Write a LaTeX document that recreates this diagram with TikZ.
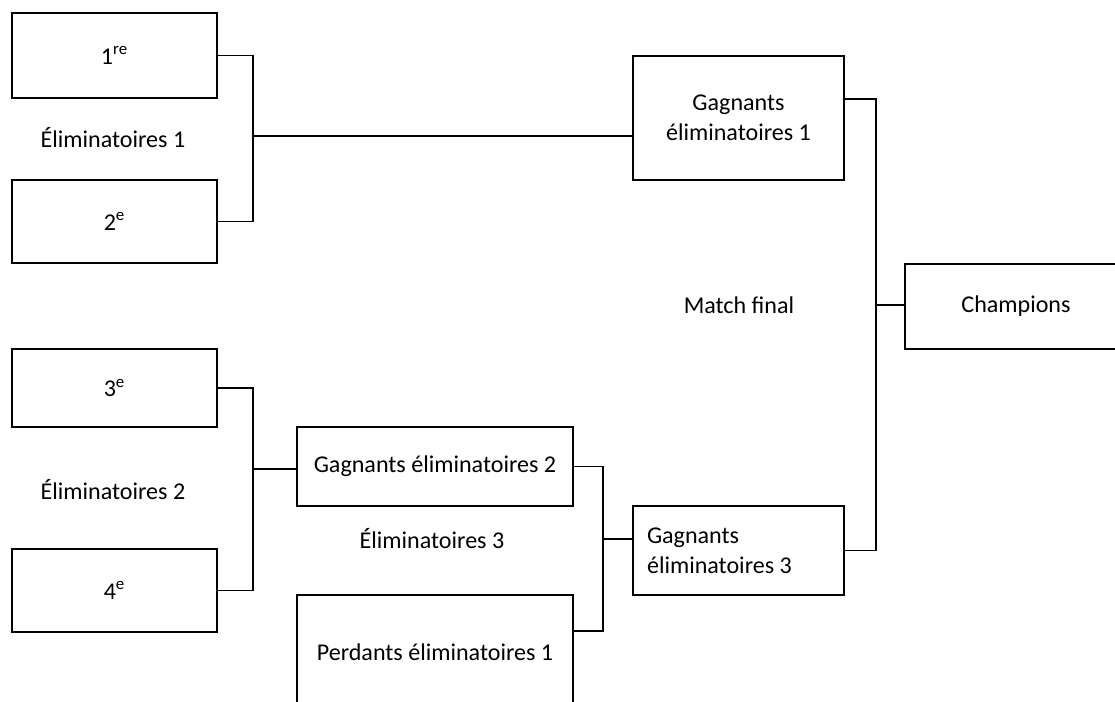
\documentclass[tikz,border=0pt]{standalone}
\usepackage{fontspec}
\setmainfont{Carlito}
\usepackage{tikz}
\usetikzlibrary{positioning, calc}

\begin{document}
\begin{tikzpicture}[
    x=0.02cm, y=-0.02cm,
    line width=1.1pt,
    every node/.style={font=\fontsize{13.7}{17}\selectfont},
    box/.style={draw, line width=1.1pt, align=center, inner sep=0pt},
    seed/.style={box, minimum width=4.1cm},
    round/.style={font=\fontsize{13.7}{17}\selectfont}
]
    \useasboundingbox (0,0) rectangle (1115,702);

    \node[seed, minimum height=1.7cm] (seed1) at (114.5,55.5) {1\textsuperscript{re}};
    \node[seed, minimum height=1.66cm] (seed2) at (114.5,221.5) {2\textsuperscript{e}};
    \node[seed, minimum height=1.56cm] (seed3) at (114.5,388) {3\textsuperscript{e}};
    \node[seed, minimum height=1.66cm] (seed4) at (114.5,590.5) {4\textsuperscript{e}};

    \node[round] (elim1) at (113,138) {Éliminatoires 1};
    \node[round] (elim2) at (113,490) {Éliminatoires 2};
    \node[round] (elim3) at (432,539) {Éliminatoires 3};
    \node[round] (final) at (739,305) {Match final};

    \node[box, minimum width=4.22cm, minimum height=2.48cm] (win1) at (738.5,118) {Gagnants\\éliminatoires 1};
    \node[box, minimum width=5.52cm, minimum height=1.58cm] (win2) at (435,466.5) {Gagnants éliminatoires 2};
    \node[box, minimum width=5.52cm, minimum height=2.28cm] (lose1) at (435,652) {Perdants éliminatoires 1};
    \node[box, minimum height=1.78cm, text width=3.66cm, align=flush left, inner xsep=0.28cm] (win3) at (738.5,550.5) {Gagnants\\éliminatoires 3};
    \node[box, minimum width=4.44cm, minimum height=1.7cm] (champ) at (1016,306.5) {Champions};

    \coordinate (j1) at (253,136);
    \coordinate (j2) at (253,469);
    \coordinate (j3) at (603,539);
    \coordinate (j4) at (876,305);

    \draw (seed1.east) -| (j1) |- (seed2.east);
    \draw (j1) -- (j1 -| win1.west);
    \draw (seed3.east) -| (j2) |- (seed4.east);
    \draw (j2) -- (j2 -| win2.west);
    \draw (win2.east) -| (j3) |- ($(lose1.north east)!0.32!(lose1.south east)$);
    \draw (j3) -- (j3 -| win3.west);
    \draw ($(win1.north east)!0.35!(win1.south east)$) -| (j4) |- (win3.east);
    \draw (j4) -- (j4 -| champ.west);
\end{tikzpicture}
\end{document}
